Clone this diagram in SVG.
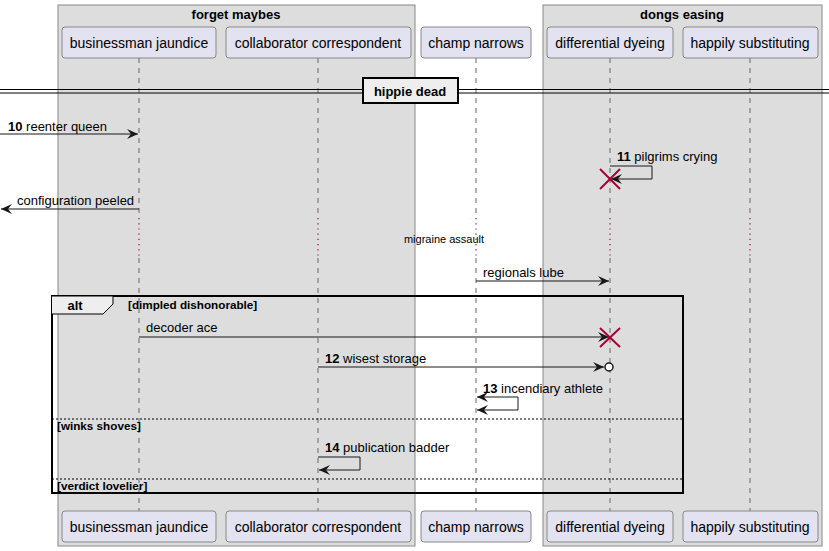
<svg xmlns="http://www.w3.org/2000/svg" width="829" height="551" viewBox="0 0 829 551">
<defs>
<style>
text{font-family:"Liberation Sans",Arial,sans-serif;fill:#000}
.box{fill:#DDDDDD;stroke:#888;stroke-width:1}
.part rect{fill:#E2E2F0;stroke:#888;stroke-width:1}
.part text{font-size:14px;text-anchor:middle}
.life{stroke:#666;stroke-width:1;stroke-dasharray:5,5}
.delay{stroke:#A80036;stroke-width:1.2;stroke-dasharray:1.2,4}
.msg{stroke:#181818;stroke-width:1;fill:none}
.lbl{font-size:13px}
.num{font-weight:bold}
.x{stroke:#A80036;stroke-width:2}
.frm{font-size:11.7px;font-weight:bold}
</style>
<marker id="ah" viewBox="0 0 12 10" refX="11" refY="5" markerWidth="12" markerHeight="10" orient="auto" markerUnits="userSpaceOnUse">
<path d="M0,0 L11,5 L0,10 L4,5 Z" fill="#181818"/>
</marker>
</defs>
<rect width="829" height="551" fill="#fff"/>
<g id="box-forget">
<rect class="box" x="58" y="5" width="357" height="541"/>
<text x="236" y="19" text-anchor="middle" font-size="13" font-weight="bold">forget maybes</text>
</g>
<g id="box-dongs">
<rect class="box" x="543" y="5" width="279" height="541"/>
<text x="682" y="19" text-anchor="middle" font-size="13" font-weight="bold">dongs easing</text>
</g>
<g id="lifelines">
<line class="life" x1="139" y1="58" x2="139" y2="218"/>
<line class="life" x1="318" y1="58" x2="318" y2="218"/>
<line class="life" x1="476" y1="58" x2="476" y2="218"/>
<line class="life" x1="610" y1="58" x2="610" y2="218"/>
<line class="life" x1="750" y1="58" x2="750" y2="218"/>
<line class="delay" x1="139" y1="218" x2="139" y2="258"/>
<line class="delay" x1="318" y1="218" x2="318" y2="258"/>
<line class="delay" x1="476" y1="218" x2="476" y2="258"/>
<line class="delay" x1="610" y1="218" x2="610" y2="258"/>
<line class="delay" x1="750" y1="218" x2="750" y2="258"/>
<line class="life" x1="139" y1="258" x2="139" y2="511"/>
<line class="life" x1="318" y1="258" x2="318" y2="511"/>
<line class="life" x1="476" y1="258" x2="476" y2="511"/>
<line class="life" x1="610" y1="258" x2="610" y2="511"/>
<line class="life" x1="750" y1="258" x2="750" y2="511"/>
</g>
<g id="p-businessman" class="part">
<rect x="62" y="27" width="154" height="31" rx="3"/><text x="139" y="48">businessman jaundice</text>
<rect x="62" y="511" width="154" height="31" rx="3"/><text x="139" y="532">businessman jaundice</text>
</g>
<g id="p-collaborator" class="part">
<rect x="226" y="27" width="185" height="31" rx="3"/><text x="318" y="48">collaborator correspondent</text>
<rect x="226" y="511" width="185" height="31" rx="3"/><text x="318" y="532">collaborator correspondent</text>
</g>
<g id="p-champ" class="part">
<rect x="421" y="27" width="110" height="31" rx="3"/><text x="476" y="48">champ narrows</text>
<rect x="421" y="511" width="110" height="31" rx="3"/><text x="476" y="532">champ narrows</text>
</g>
<g id="p-differential" class="part">
<rect x="547" y="27" width="126" height="31" rx="3"/><text x="610" y="48">differential dyeing</text>
<rect x="547" y="511" width="126" height="31" rx="3"/><text x="610" y="532">differential dyeing</text>
</g>
<g id="p-happily" class="part">
<rect x="683" y="27" width="135" height="31" rx="3"/><text x="750" y="48">happily substituting</text>
<rect x="683" y="511" width="135" height="31" rx="3"/><text x="750" y="532">happily substituting</text>
</g>
<g id="divider">
<line x1="0" y1="89.5" x2="829" y2="89.5" stroke="#000" stroke-width="1"/>
<line x1="0" y1="93" x2="829" y2="93" stroke="#000" stroke-width="1"/>
<rect x="363" y="78" width="95" height="25" fill="#EEEEEE" stroke="#000" stroke-width="2"/>
<text x="410" y="96" text-anchor="middle" font-size="13" font-weight="bold">hippie dead</text>
</g>
<g id="alt-frame">
<rect x="52" y="296" width="631" height="197" fill="none" stroke="#000" stroke-width="2"/>
<path d="M52,296 L113,296 L113,304 L103,314 L52,314" fill="#EEEEEE" stroke="#000" stroke-width="1"/>
<text x="75" y="310" text-anchor="middle" font-size="13" font-weight="bold">alt</text>
<text class="frm" x="128" y="309">[dimpled dishonorable]</text>
<line x1="52" y1="419" x2="683" y2="419" stroke="#000" stroke-width="1" stroke-dasharray="2,2"/>
<text class="frm" x="57" y="430">[winks shoves]</text>
<line x1="52" y1="479" x2="683" y2="479" stroke="#000" stroke-width="1" stroke-dasharray="2,2"/>
<text class="frm" x="57" y="490">[verdict lovelier]</text>
</g>
<g id="connectors">
<line class="msg" x1="0" y1="134" x2="138" y2="134" marker-end="url(#ah)"/>
<text class="lbl" x="8" y="131"><tspan class="num">10</tspan> reenter queen</text>
<polyline class="msg" points="610,166 652,166 652,179 611,179" marker-end="url(#ah)"/>
<text class="lbl" x="617" y="161"><tspan class="num">11</tspan> pilgrims crying</text>
<line class="x" x1="600" y1="169" x2="620" y2="189"/><line class="x" x1="620" y1="169" x2="600" y2="189"/>
<line class="msg" x1="139" y1="209" x2="1" y2="209" marker-end="url(#ah)"/>
<text class="lbl" x="17" y="205">configuration peeled</text>
<text x="444" y="243" text-anchor="middle" font-size="11">migraine assault</text>
<line class="msg" x1="476" y1="281" x2="609" y2="281" marker-end="url(#ah)"/>
<text class="lbl" x="483" y="277">regionals lube</text>
<line class="msg" x1="139" y1="337" x2="609" y2="337" marker-end="url(#ah)"/>
<text class="lbl" x="146" y="332">decoder ace</text>
<line class="x" x1="600" y1="328" x2="620" y2="347"/><line class="x" x1="620" y1="328" x2="600" y2="347"/>
<line class="msg" x1="318" y1="367" x2="604" y2="367" marker-end="url(#ah)"/>
<circle cx="609" cy="367" r="4" fill="#fff" stroke="#181818" stroke-width="1.5"/>
<text class="lbl" x="325" y="363"><tspan class="num">12</tspan> wisest storage</text>
<polyline class="msg" points="477,397 518,397 518,410 477,410" marker-end="url(#ah)"/>
<path d="M477,397 L488,392 L484,397 L488,402 Z" fill="#181818"/>
<text class="lbl" x="483" y="393"><tspan class="num">13</tspan> incendiary athlete</text>
<polyline class="msg" points="318,457 360,457 360,470 319,470" marker-end="url(#ah)"/>
<text class="lbl" x="325" y="452"><tspan class="num">14</tspan> publication badder</text>
</g>
</svg>
